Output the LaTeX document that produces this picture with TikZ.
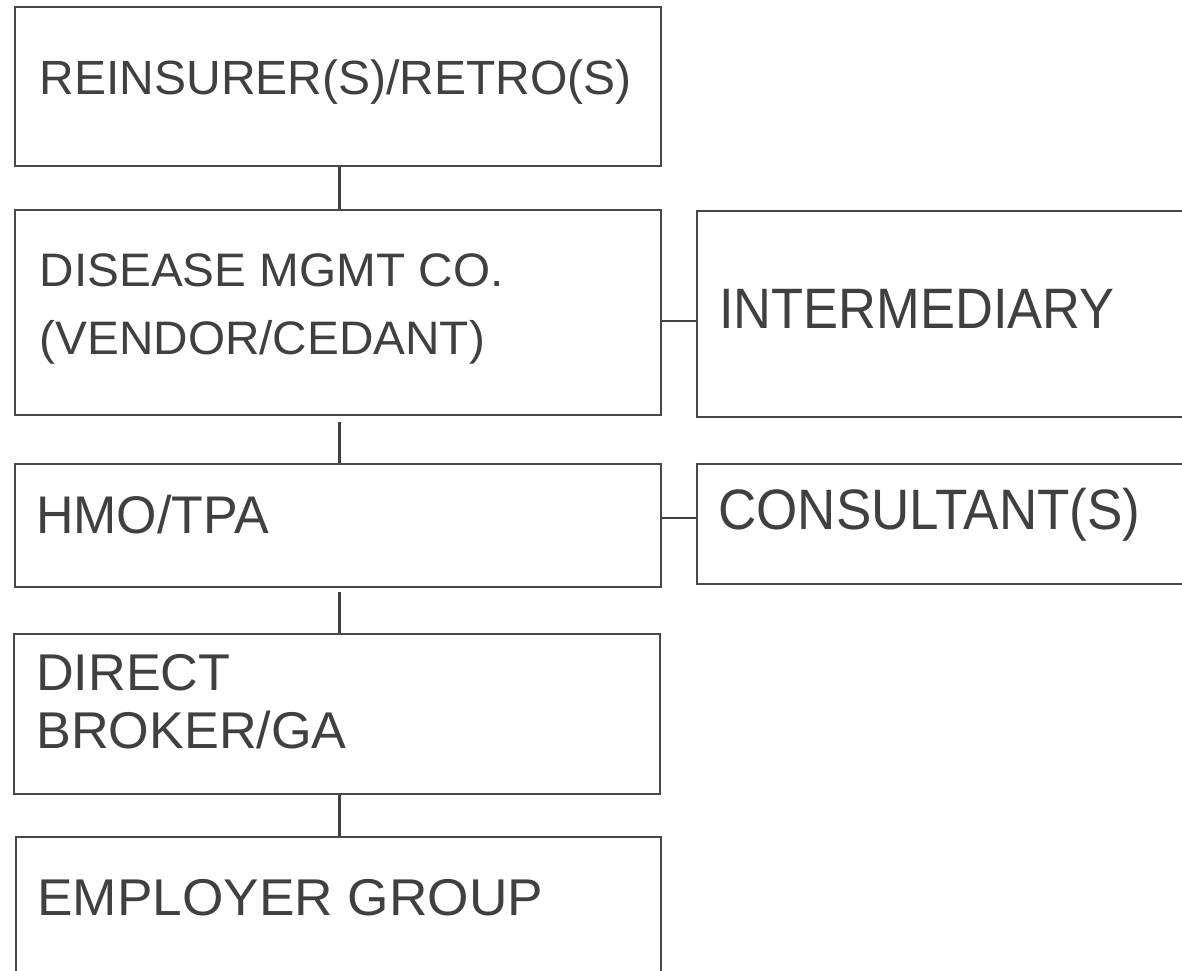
\documentclass[tikz,border=0pt]{standalone}
\usepackage{fontspec}
\setmainfont{Liberation Sans}
\usetikzlibrary{calc}
\definecolor{ink}{RGB}{64,64,64}
\definecolor{edge}{RGB}{72,72,72}
\newcommand{\lbl}[3]{\fontsize{#1}{#1}\selectfont\scalebox{#2}[1]{#3}}
\begin{document}
\begin{tikzpicture}[x=1pt,y=-1pt,
  box/.style={draw=edge,line width=2.2pt,fill=white,rectangle,inner sep=0pt},
  txt/.style={anchor=base west,inner sep=0pt,text=ink},
  link/.style={draw=ink,line width=3pt}]
\useasboundingbox (0,0) rectangle (1182,970);
\clip (0,0) rectangle (1182,970);
\fill[white] (0,0) rectangle (1182,970);

% boxes of the chain
\node[box,minimum width=646pt,minimum height=159pt] (b1) at (338,86.5) {};
\node[box,minimum width=646pt,minimum height=205pt] (b2) at (338,312.5) {};
\node[box,minimum width=646pt,minimum height=123pt] (b3) at (338,525.5) {};
\node[box,minimum width=646pt,minimum height=160pt] (b4) at (337,714) {};
\node[box,minimum width=645pt,minimum height=160pt] (b5) at (338.5,917) {};
% side boxes
\node[box,minimum width=500pt,minimum height=206pt] (int) at (947,314) {};
\node[box,minimum width=500pt,minimum height=120pt] (cons) at (947,524) {};

% labels
\node[txt] (t1) at (39.5,94) {\lbl{48}{1.0}{REINSURER(S)/RETRO(S)}};
\node[txt] (t2a) at (39.5,286) {\lbl{47}{1.015}{DISEASE MGMT CO.}};
\node[txt] (t2b) at (39.5,354) {\lbl{47}{1.015}{(VENDOR/CEDANT)}};
\node[txt] (t3) at (36,533) {\lbl{53}{0.98}{HMO/TPA}};
\node[txt] (t4a) at (36,690) {\lbl{51.7}{1.01}{DIRECT}};
\node[txt] (t4b) at (36,748) {\lbl{51.7}{1.01}{BROKER/GA}};
\node[txt] (t5) at (37,915) {\lbl{51.7}{1.03}{EMPLOYER GROUP}};
\node[txt] (ti) at (719,328) {\lbl{57}{0.92}{INTERMEDIARY}};
\node[txt] (tc) at (718,529) {\lbl{57}{0.93}{CONSULTANT(S)}};

% vertical links
\coordinate (v) at (339,0);
\draw[link] (b1.south -| v) -- (b2.north -| v);
\draw[link,shorten <=6pt] (b2.south -| v) -- (b3.north -| v);
\draw[link,shorten <=4pt] (b3.south -| v) -- (b4.north -| v);
\draw[link] (b4.south -| v) -- (b5.north -| v);
% horizontal links
\coordinate (h1) at (679,321);
\coordinate (h2) at (679,518);
\draw[link,line width=2.5pt] (h1 -| b2.east) -- (h1 -| int.west);
\draw[link,line width=2.5pt] (h2 -| b3.east) -- (h2 -| cons.west);
\end{tikzpicture}
\end{document}
